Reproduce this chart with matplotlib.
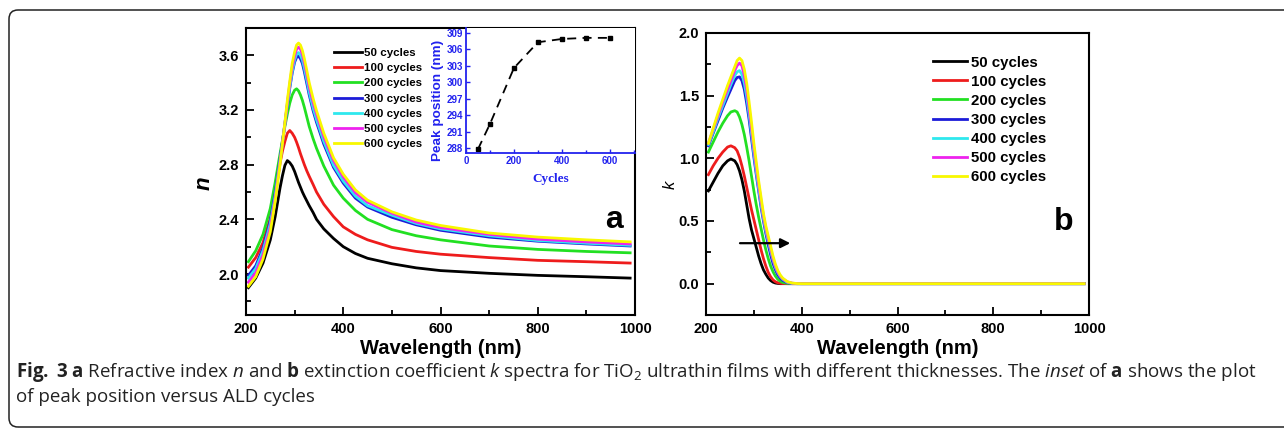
import matplotlib
matplotlib.use("Agg")
import matplotlib.pyplot as plt
from matplotlib.ticker import MultipleLocator, FormatStrFormatter
from matplotlib.patches import FancyBboxPatch
from matplotlib.transforms import IdentityTransform

# figure size in pixels
W, H = 1284, 430

# ---- data ----
labels = ["50 cycles", "100 cycles", "200 cycles", "300 cycles",
          "400 cycles", "500 cycles", "600 cycles"]
colors = ["#000000", "#ee1c1c", "#22e022", "#1c1cd8", "#2ee8ee", "#ee22ee", "#f8f800"]

# panel a: refractive index n
wl_n = [205, 220, 235, 250, 260, 270, 275, 280, 285, 290, 295, 300, 304, 308, 312, 316, 320,
        325, 330, 338, 345, 360, 380, 400, 425, 450, 500, 550, 600, 700, 800, 900, 990]
n_50 = [1.90, 1.97, 2.08, 2.25, 2.42, 2.63, 2.72, 2.795, 2.83, 2.815, 2.79, 2.75, 2.71, 2.67,
        2.635, 2.60, 2.57, 2.535, 2.50, 2.45, 2.40, 2.33, 2.26, 2.20, 2.15, 2.115, 2.075,
        2.045, 2.025, 2.005, 1.99, 1.98, 1.97]
n_100 = [2.05, 2.12, 2.23, 2.41, 2.59, 2.81, 2.90, 2.97, 3.03, 3.05, 3.03, 3.00, 2.965, 2.925,
         2.88, 2.84, 2.80, 2.755, 2.715, 2.655, 2.60, 2.51, 2.42, 2.345, 2.29, 2.25, 2.195,
         2.165, 2.145, 2.12, 2.10, 2.09, 2.08]
n_200 = [2.09, 2.17, 2.29, 2.48, 2.67, 2.88, 2.98, 3.08, 3.17, 3.25, 3.31, 3.345, 3.355, 3.34,
         3.31, 3.27, 3.22, 3.15, 3.08, 2.99, 2.92, 2.79, 2.65, 2.555, 2.465, 2.40, 2.325,
         2.28, 2.25, 2.205, 2.18, 2.165, 2.155]
n_300 = [1.99, 2.06, 2.19, 2.39, 2.59, 2.84, 2.97, 3.10, 3.23, 3.36, 3.47, 3.55, 3.585, 3.595,
         3.575, 3.54, 3.48, 3.395, 3.31, 3.195, 3.11, 2.95, 2.78, 2.665, 2.555, 2.49, 2.415,
         2.36, 2.32, 2.27, 2.24, 2.22, 2.205]
n_400 = [1.97, 2.04, 2.17, 2.37, 2.57, 2.83, 2.965, 3.10, 3.24, 3.37, 3.48, 3.565, 3.61, 3.62,
         3.60, 3.565, 3.505, 3.42, 3.33, 3.215, 3.13, 2.97, 2.795, 2.68, 2.57, 2.50, 2.43,
         2.37, 2.33, 2.28, 2.245, 2.225, 2.21]
n_500 = [1.94, 2.01, 2.14, 2.34, 2.55, 2.82, 2.96, 3.10, 3.25, 3.39, 3.51, 3.595, 3.645, 3.66,
         3.645, 3.605, 3.545, 3.46, 3.37, 3.255, 3.17, 3.005, 2.83, 2.71, 2.595, 2.525, 2.445,
         2.38, 2.34, 2.29, 2.255, 2.235, 2.22]
n_600 = [1.91, 1.98, 2.11, 2.31, 2.53, 2.80, 2.955, 3.11, 3.27, 3.41, 3.54, 3.625, 3.675, 3.69,
         3.675, 3.635, 3.575, 3.49, 3.40, 3.285, 3.195, 3.03, 2.85, 2.73, 2.615, 2.54, 2.455,
         2.395, 2.355, 2.30, 2.27, 2.25, 2.235]

# inset: peak position vs ALD cycles
cycles = [50, 100, 200, 300, 400, 500, 600]
peak_pos = [287.8, 292.4, 302.6, 307.3, 307.9, 308.1, 308.1]

# panel b: extinction coefficient k
wl_k = [205, 215, 225, 235, 245, 252, 260, 265, 270, 275, 280, 285, 290, 295, 300, 305,
        310, 315, 320, 325, 330, 335, 340, 345, 350, 355, 360, 370, 380, 390, 400, 990]
k_50 = [0.74, 0.81, 0.88, 0.94, 0.98, 0.995, 0.98, 0.95, 0.90, 0.83, 0.74, 0.63, 0.52, 0.43,
        0.36, 0.29, 0.22, 0.16, 0.11, 0.075, 0.045, 0.025, 0.012, 0.005, 0.002, 0, 0, 0, 0, 0, 0, 0]
k_100 = [0.87, 0.94, 1.00, 1.05, 1.09, 1.10, 1.085, 1.06, 1.01, 0.94, 0.86, 0.77, 0.68, 0.59,
         0.51, 0.43, 0.35, 0.27, 0.20, 0.14, 0.09, 0.055, 0.03, 0.015, 0.007, 0.003, 0.001, 0, 0, 0, 0, 0]
k_200 = [1.05, 1.13, 1.21, 1.28, 1.34, 1.37, 1.38, 1.37, 1.33, 1.27, 1.19, 1.09, 0.98, 0.86,
         0.74, 0.63, 0.53, 0.44, 0.35, 0.27, 0.20, 0.14, 0.095, 0.06, 0.035, 0.02, 0.01, 0.003, 0, 0, 0, 0]
k_300 = [1.10, 1.20, 1.30, 1.40, 1.49, 1.55, 1.62, 1.645, 1.65, 1.62, 1.55, 1.44, 1.31, 1.16,
         1.01, 0.87, 0.74, 0.61, 0.50, 0.40, 0.31, 0.23, 0.16, 0.11, 0.07, 0.045, 0.027, 0.008, 0.002, 0, 0, 0]
k_400 = [1.11, 1.21, 1.32, 1.42, 1.52, 1.59, 1.66, 1.69, 1.70, 1.67, 1.60, 1.49, 1.35, 1.20,
         1.04, 0.89, 0.76, 0.63, 0.52, 0.42, 0.34, 0.26, 0.19, 0.13, 0.088, 0.057, 0.036, 0.01, 0.003, 0, 0, 0]
k_500 = [1.12, 1.23, 1.34, 1.45, 1.55, 1.62, 1.70, 1.74, 1.76, 1.74, 1.66, 1.55, 1.40, 1.24,
         1.08, 0.93, 0.79, 0.66, 0.54, 0.44, 0.36, 0.28, 0.20, 0.14, 0.095, 0.062, 0.04, 0.014, 0.004, 0.001, 0, 0]
k_600 = [1.12, 1.24, 1.36, 1.47, 1.58, 1.65, 1.73, 1.78, 1.80, 1.78, 1.71, 1.60, 1.45, 1.29,
         1.12, 0.97, 0.82, 0.69, 0.56, 0.46, 0.38, 0.30, 0.22, 0.155, 0.105, 0.07, 0.045, 0.016, 0.005, 0.001, 0, 0]

n_series = [n_50, n_100, n_200, n_300, n_400, n_500, n_600]
k_series = [k_50, k_100, k_200, k_300, k_400, k_500, k_600]

# arrow in panel b (shift of the absorption edge)
arrow_start = (271, 0.323)
arrow_end = (376, 0.323)

caption_1 = (r"$\mathbf{Fig.}$ $\mathbf{3}$ $\mathbf{a}$ Refractive index $\mathit{n}$ and "
             r"$\mathbf{b}$ extinction coefficient $\mathit{k}$ spectra for TiO$_2$ ultrathin "
             r"films with different thicknesses. The $\mathit{inset}$ of $\mathbf{a}$ shows the plot")
caption_2 = "of peak position versus ALD cycles"

plt.rcParams["font.family"] = ["Liberation Sans", "DejaVu Sans"]
plt.rcParams["mathtext.fontset"] = "custom"
plt.rcParams["mathtext.rm"] = "Open Sans"
plt.rcParams["mathtext.it"] = "Open Sans:italic"
plt.rcParams["mathtext.bf"] = "Open Sans:bold"


def box(x0, y0, x1, y1):
    # pixel box (top-left origin) -> figure fraction [left, bottom, width, height]
    return [x0 / W, 1 - y1 / H, (x1 - x0) / W, (y1 - y0) / H]


def style_axes(ax, size):
    for s in ax.spines.values():
        s.set_linewidth(1.5)
    ax.tick_params(which="both", direction="in", top=False, right=False, width=1.3)
    ax.tick_params(which="major", length=6, labelsize=size, pad=5)
    ax.tick_params(which="minor", length=3.5)
    for t in ax.get_xticklabels() + ax.get_yticklabels():
        t.set_fontweight("bold")


fig = plt.figure(figsize=(W / 100, H / 100), dpi=100)

# ---------- panel a ----------
ax1 = fig.add_axes(box(246, 28, 635, 315))
for vals, c, lab in zip(n_series, colors, labels):
    ax1.plot(wl_n, vals, color=c, lw=2.0, label=lab, solid_joinstyle="round")
ax1.set_xlim(200, 1000)
ax1.set_ylim(1.7, 3.8)
ax1.xaxis.set_major_locator(MultipleLocator(200))
ax1.xaxis.set_minor_locator(MultipleLocator(100))
ax1.yaxis.set_major_locator(MultipleLocator(0.4))
ax1.yaxis.set_minor_locator(MultipleLocator(0.2))
ax1.yaxis.set_major_formatter(FormatStrFormatter("%.1f"))
style_axes(ax1, 10.5)
ax1.set_xlabel("Wavelength (nm)", fontsize=14.5, fontweight="bold")
ax1.xaxis.set_label_coords(0.5, -0.085)
ax1.set_ylabel("n", fontsize=16, fontweight="bold", style="italic")
ax1.yaxis.set_label_coords(-0.08, 0.46)
ax1.text(0.945, 0.33, "a", transform=ax1.transAxes, fontsize=23, fontweight="bold",
         ha="center", va="center")
ax1.legend(loc="upper left", bbox_to_anchor=(334 / W, 1 - 48 / H), bbox_transform=fig.transFigure,
           frameon=False, prop={"weight": "bold", "size": 8.25}, handlelength=2.42,
           handletextpad=0.2, labelspacing=0.45, borderpad=0, borderaxespad=0)

# inset
ins = fig.add_axes(box(466, 28, 635, 153))
ins.plot(cycles, peak_pos, color="k", ls=(0, (5, 3.5)), lw=1.3, marker="s", ms=3.5)
ins.set_xlim(0, 705)
ins.set_ylim(287.1, 309.9)
ins.xaxis.set_major_locator(MultipleLocator(200))
ins.xaxis.set_minor_locator(MultipleLocator(100))
ins.set_yticks(range(288, 310, 3))
for s in ["left", "bottom"]:
    ins.spines[s].set_color("#2222ee")
    ins.spines[s].set_linewidth(1.3)
for s in ["top", "right"]:
    ins.spines[s].set_visible(False)
ins.tick_params(which="both", direction="in", colors="#2222ee", width=1.0, top=False, right=False)
ins.tick_params(which="major", length=3, labelsize=7, pad=2)
ins.tick_params(which="minor", length=2)
for t in ins.get_xticklabels() + ins.get_yticklabels():
    t.set_fontweight("bold")
ins.set_ylabel("Peak position (nm)", fontsize=9.7, fontweight="bold", color="#2222ee")
ins.yaxis.set_label_coords(-0.13, 0.42)
ins.set_xlabel("Cycles", fontsize=9.5, fontweight="bold", color="#2222ee",
               family="Liberation Serif", labelpad=5)

# ---------- panel b ----------
ax2 = fig.add_axes(box(706, 33, 1089, 315))
for vals, c, lab in zip(k_series, colors, labels):
    ax2.plot(wl_k, vals, color=c, lw=2.0, label=lab, solid_joinstyle="round")
ax2.set_xlim(200, 1000)
ax2.set_ylim(-0.25, 2.0)
ax2.xaxis.set_major_locator(MultipleLocator(200))
ax2.xaxis.set_minor_locator(MultipleLocator(100))
ax2.yaxis.set_major_locator(MultipleLocator(0.5))
ax2.yaxis.set_minor_locator(MultipleLocator(0.25))
ax2.yaxis.set_major_formatter(FormatStrFormatter("%.1f"))
style_axes(ax2, 10.5)
ax2.set_xlabel("Wavelength (nm)", fontsize=14.5, fontweight="bold")
ax2.xaxis.set_label_coords(0.5, -0.085)
ax2.set_ylabel("k", fontsize=12, style="italic")
ax2.yaxis.set_label_coords(-0.075, 0.46)
ax2.text(0.935, 0.33, "b", transform=ax2.transAxes, fontsize=23, fontweight="bold",
         ha="center", va="center")
ax2.legend(loc="upper left", bbox_to_anchor=(933 / W, 1 - 55.5 / H), bbox_transform=fig.transFigure,
           frameon=False, prop={"weight": "bold", "size": 10.8}, handlelength=2.29,
           handletextpad=0.27, labelspacing=0.34, borderpad=0, borderaxespad=0)
ax2.annotate("", xy=arrow_end, xytext=arrow_start,
             arrowprops=dict(arrowstyle="-|>", color="k", lw=1.6, mutation_scale=14,
                             shrinkA=0, shrinkB=0))

# ---------- frame and caption ----------
frame = FancyBboxPatch((9, 3), 1320, 417, boxstyle="round,pad=0,rounding_size=9",
                       transform=IdentityTransform(), fill=False, ec="#222222", lw=1.1)
fig.add_artist(frame)
fig.text(16 / W, 1 - 372 / H, caption_1, fontsize=13.5, family="Open Sans",
         color="#222222", va="center", ha="left")
fig.text(16 / W, 1 - 397 / H, caption_2, fontsize=13.5, family="Open Sans",
         color="#222222", va="center", ha="left")

fig.savefig("out.png", dpi=100)
